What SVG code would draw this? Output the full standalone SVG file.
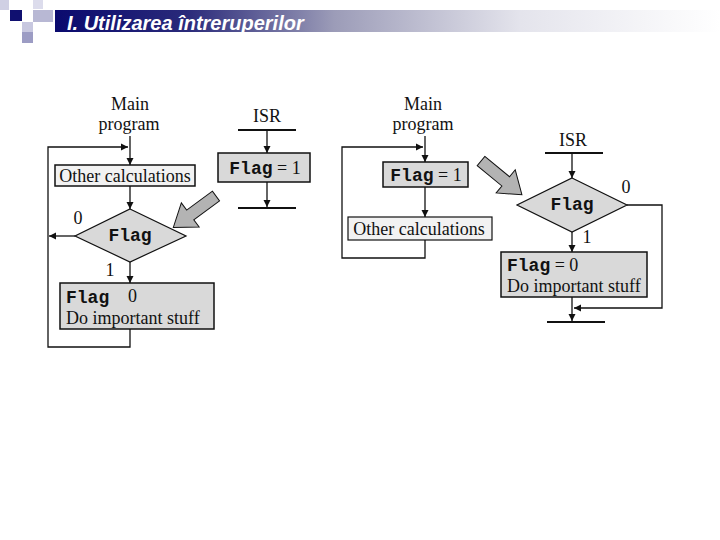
<svg xmlns="http://www.w3.org/2000/svg" width="720" height="540" viewBox="0 0 720 540">
<defs>
<linearGradient id="bar" x1="0" y1="0" x2="1" y2="0">
<stop offset="0" stop-color="#0a0a6e"/>
<stop offset="0.2" stop-color="#2a2a7a"/>
<stop offset="0.42" stop-color="#9c9cb8"/>
<stop offset="0.7" stop-color="#e4e4ec"/>
<stop offset="1" stop-color="#ffffff"/>
</linearGradient>
<marker id="ah" viewBox="0 0 10 10" refX="10" refY="5" markerWidth="7" markerHeight="8" markerUnits="userSpaceOnUse" orient="auto">
<path d="M0,0 L10,5 L0,10 z" fill="#111"/>
</marker>
<style>
.ln{fill:none;stroke:#111;stroke-width:1.3}
.bx{stroke:#111;stroke-width:1.5}
.g{fill:#d9d9d9}
.w{fill:#f2f2f2}
.s{font-family:"Liberation Serif",serif;font-size:18px;fill:#111}
.m{font-family:"Liberation Mono",monospace;font-size:18px;font-weight:bold;fill:#111}
.big{fill:#b3b3b3;stroke:#111;stroke-width:1}
.thick{stroke:#111;stroke-width:2}
</style>
</defs>
<rect width="720" height="540" fill="#fff"/>
<g id="header">
<rect x="55" y="10" width="665" height="22" fill="url(#bar)"/>
<rect x="0" y="0" width="9" height="10" fill="#d0d0e4"/>
<rect x="10" y="10" width="12" height="11" fill="#101070"/>
<rect x="33" y="0" width="10" height="9" fill="#dcdcec"/>
<rect x="33" y="10" width="20" height="12" fill="#b8b8d4"/>
<rect x="22" y="22" width="11" height="10" fill="#c8c8e0"/>
<rect x="22" y="32" width="11" height="11" fill="#9c9cc4"/>
<text x="67" y="30" font-family="Liberation Sans,Arial,sans-serif" font-size="20" font-weight="bold" font-style="italic" fill="#fff">I. Utilizarea întreruperilor</text>
</g>
<g id="connectors">
<line class="ln" x1="130" y1="136" x2="130" y2="165" marker-end="url(#ah)"/>
<polyline class="ln" points="130,329 130,347 48,347 48,147 128,147" marker-end="url(#ah)"/>
<line class="ln" x1="130" y1="186" x2="130" y2="209" marker-end="url(#ah)"/>
<line class="ln" x1="75" y1="236" x2="49" y2="236" marker-end="url(#ah)"/>
<line class="ln" x1="130" y1="262" x2="130" y2="283" marker-end="url(#ah)"/>
<line class="thick" x1="238" y1="130" x2="296" y2="130"/>
<line class="ln" x1="267" y1="130" x2="267" y2="153" marker-end="url(#ah)"/>
<line class="ln" x1="267" y1="182" x2="267" y2="207" marker-end="url(#ah)"/>
<line class="thick" x1="238" y1="208" x2="296" y2="208"/>
<line class="ln" x1="425" y1="136" x2="425" y2="162" marker-end="url(#ah)"/>
<line class="ln" x1="425" y1="187" x2="425" y2="217" marker-end="url(#ah)"/>
<polyline class="ln" points="425,240 425,258 342,258 342,147 423,147" marker-end="url(#ah)"/>
<line class="thick" x1="545" y1="153" x2="603" y2="153"/>
<line class="ln" x1="572" y1="153" x2="572" y2="178" marker-end="url(#ah)"/>
<line class="ln" x1="572" y1="232" x2="572" y2="252" marker-end="url(#ah)"/>
<polyline class="ln" points="627,205 662,205 662,308 574,308" marker-end="url(#ah)"/>
<line class="ln" x1="572" y1="297" x2="572" y2="321" marker-end="url(#ah)"/>
<line class="thick" x1="547" y1="322" x2="605" y2="322"/>
</g>
<g id="left-main-label"><text class="s" x="130" y="110" text-anchor="middle">Main</text><text class="s" x="129" y="130" text-anchor="middle">program</text></g>
<g id="left-other"><rect class="bx w" x="55" y="165" width="140" height="21"/><text class="s" x="125" y="182" text-anchor="middle">Other calculations</text></g>
<g id="left-flag-dec"><polygon class="bx g" points="130,209 186,236 130,262 75,236" style="stroke-width:1.2"/><text class="m" x="130" y="241" text-anchor="middle">Flag</text><text class="s" x="78" y="224" text-anchor="middle">0</text><text class="s" x="110" y="276" text-anchor="middle">1</text></g>
<g id="left-important"><rect class="bx g" x="60" y="283" width="154" height="46"/><text class="m" x="66" y="303">Flag</text><text class="s" x="128" y="302">0</text><text class="s" x="66" y="324">Do important stuff</text></g>
<g id="left-isr"><text class="s" x="267" y="122" text-anchor="middle">ISR</text><rect class="bx g" x="218" y="153" width="92" height="29"/><text x="265" y="174" text-anchor="middle"><tspan class="m">Flag</tspan><tspan class="s"> = 1</tspan></text></g>
<g id="arrow-left"><polygon class="big" transform="translate(216,196) rotate(143.6)" points="0,-6 32,-6 32,-15 53,0 32,15 32,6 0,6"/></g>
<g id="right-main-label"><text class="s" x="423" y="110" text-anchor="middle">Main</text><text class="s" x="423" y="130" text-anchor="middle">program</text></g>
<g id="right-flag1"><rect class="bx g" x="383" y="162" width="85" height="25"/><text x="426" y="181" text-anchor="middle"><tspan class="m">Flag</tspan><tspan class="s"> = 1</tspan></text></g>
<g id="right-other"><rect class="bx w" x="348" y="217" width="144" height="23" style="stroke-width:1.2"/><text class="s" x="419" y="235" text-anchor="middle">Other calculations</text></g>
<g id="arrow-right"><polygon class="big" transform="translate(481,161) rotate(39.5)" points="0,-6 32,-6 32,-15 53,0 32,15 32,6 0,6"/></g>
<g id="right-isr"><text class="s" x="573" y="146" text-anchor="middle">ISR</text></g>
<g id="right-flag-dec"><polygon class="bx g" points="572,178 627,205 572,232 517,205" style="stroke-width:1.2"/><text class="m" x="572" y="210" text-anchor="middle">Flag</text><text class="s" x="626" y="193" text-anchor="middle">0</text><text class="s" x="587" y="243" text-anchor="middle">1</text></g>
<g id="right-important"><rect class="bx g" x="501" y="252" width="146" height="45"/><text x="507" y="271"><tspan class="m">Flag</tspan><tspan class="s"> = 0</tspan></text><text class="s" x="507" y="292">Do important stuff</text></g>
</svg>
